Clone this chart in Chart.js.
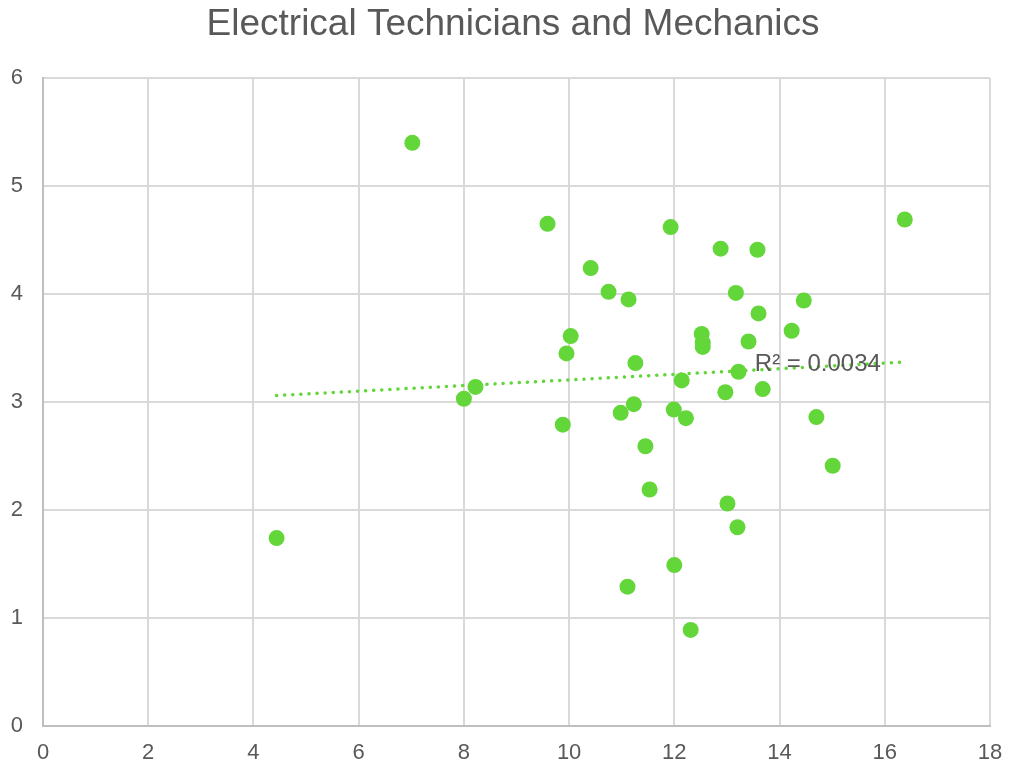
<!DOCTYPE html>
<html>
<head>
<meta charset="utf-8">
<script src="https://cdn.jsdelivr.net/npm/chart.js@4/dist/chart.umd.min.js"></script>
<style>
html,body{margin:0;padding:0;background:#fff;}
#wrap{width:1009px;height:767px;}
</style>
</head>
<body>
<div id="wrap"><canvas id="c" width="1009" height="767"></canvas></div>
<script>
const chartTitle = "Electrical Technicians and Mechanics";
const xValues = [4.44, 7.02, 8.00, 8.22, 9.59, 9.88, 9.95, 10.03, 10.41, 10.75, 10.98, 11.11, 11.13, 11.23, 11.26, 11.45, 11.53, 11.93, 11.99, 12.00, 12.14, 12.22, 12.31, 12.52, 12.54, 12.54, 12.88, 12.97, 13.01, 13.17, 13.20, 13.22, 13.41, 13.58, 13.60, 13.68, 14.23, 14.46, 14.70, 15.01, 16.38];
const yValues = [1.74, 5.40, 3.03, 3.14, 4.65, 2.79, 3.45, 3.61, 4.24, 4.02, 2.90, 1.29, 3.95, 2.98, 3.36, 2.59, 2.19, 4.62, 2.93, 1.49, 3.20, 2.85, 0.89, 3.63, 3.55, 3.51, 4.42, 3.09, 2.06, 4.01, 1.84, 3.28, 3.56, 4.41, 3.82, 3.12, 3.66, 3.94, 2.86, 2.41, 4.69];
const trendX = [4.44, 16.38];
const trendY = [3.06, 3.37];
const rSquaredLabel = "R² = 0.0034";
const labelPos = [13.53, 3.35];
const xTicks = [0, 2, 4, 6, 8, 10, 12, 14, 16, 18];
const yTicks = [0, 1, 2, 3, 4, 5, 6];

const pointColor = "#63d63a";
const textColor = "#595959";
const gridColor = "#d9d9d9";
const fontFam = '"Liberation Sans", Arial, sans-serif';

const points = xValues.map((x, i) => ({x: x, y: yValues[i]}));
const trend = trendX.map((x, i) => ({x: x, y: trendY[i]}));

const textPlugin = {
  id: 'texts',
  afterDatasetsDraw(chart) {
    const ctx = chart.ctx;
    const xs = chart.scales.x, ys = chart.scales.y;
    ctx.save();
    ctx.font = '24px ' + fontFam;
    ctx.fillStyle = textColor;
    ctx.textAlign = 'left';
    ctx.textBaseline = 'middle';
    ctx.fillText(rSquaredLabel, xs.getPixelForValue(labelPos[0]), ys.getPixelForValue(labelPos[1]));
    ctx.font = '37px ' + fontFam;
    ctx.textAlign = 'center';
    ctx.fillText(chartTitle, 513, 25);
    ctx.restore();
  }
};

new Chart(document.getElementById('c'), {
  type: 'scatter',
  data: {
    datasets: [
      {
        label: 'data',
        data: points,
        backgroundColor: pointColor,
        borderColor: pointColor,
        borderWidth: 0,
        pointRadius: 8,
        pointHoverRadius: 8,
        order: 1
      },
      {
        label: 'trend',
        type: 'line',
        data: trend,
        borderColor: pointColor,
        borderWidth: 3.5,
        borderDash: [0.1, 8],
        borderCapStyle: 'round',
        pointRadius: 0,
        fill: false,
        order: 2
      }
    ]
  },
  options: {
    responsive: false,
    animation: false,
    devicePixelRatio: 1,
    layout: {padding: {top: 78, right: 19, bottom: 0, left: 0}},
    plugins: {
      legend: {display: false},
      tooltip: {enabled: false},
      title: {display: false}
    },
    scales: {
      x: {
        type: 'linear',
        min: 0, max: 18,
        afterBuildTicks(scale) { scale.ticks = xTicks.map(v => ({value: v})); },
        afterFit(scale) { scale.height = 41; scale.paddingRight = 0; scale.paddingLeft = 0; },
        ticks: {color: textColor, font: {family: fontFam, size: 22}, padding: 14, maxRotation: 0, autoSkip: false},
        grid: {color: gridColor, lineWidth: 2, drawTicks: false},
        border: {color: '#bfbfbf', width: 2}
      },
      y: {
        type: 'linear',
        min: 0, max: 6,
        afterBuildTicks(scale) { scale.ticks = yTicks.map(v => ({value: v})); },
        afterFit(scale) { scale.width = 43; scale.paddingTop = 0; scale.paddingBottom = 0; },
        ticks: {color: textColor, font: {family: fontFam, size: 22}, padding: 20, autoSkip: false},
        grid: {color: gridColor, lineWidth: 2, drawTicks: false},
        border: {color: '#bfbfbf', width: 2}
      }
    }
  },
  plugins: [textPlugin]
});
</script>
</body>
</html>
